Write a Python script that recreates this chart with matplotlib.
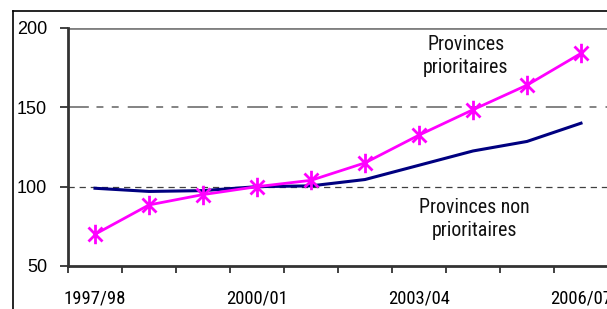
import matplotlib
matplotlib.use("Agg")
import matplotlib.pyplot as plt
from matplotlib import font_manager as fm
from matplotlib.font_manager import FontProperties
from matplotlib.lines import Line2D
from matplotlib.path import Path
import numpy as np

plt.rcParams["font.family"] = ["Liberation Sans", "DejaVu Sans"]
plt.rcParams["lines.scale_dashes"] = False

###================ Data =================###

years = ["1997/98", "1998/99", "1999/00", "2000/01", "2001/02",
         "2002/03", "2003/04", "2004/05", "2005/06", "2006/07"]
prioritaires = [70, 88.5, 95, 100, 104, 115, 132.5, 148.5, 164, 184]
non_prioritaires = [99, 97, 97.5, 100, 100.5, 104.5, 113.5, 122.5, 128.5, 140]
y_ticks = [50, 100, 150, 200]
label_every = 3

###================ Font helpers =================###

def find_narrow_font() -> FontProperties:
    """Look for an installed narrow / condensed sans (Arial Narrow look)"""
    prefs = ["liberation sans narrow", "arial narrow", "roboto condensed",
             "noto sans", "open sans", "dejavu sans"]
    found = []
    for f in fm.fontManager.ttflist:
        tag = (f.name + " " + f.fname).lower()
        if "mono" in tag or "serif" in tag or "italic" in tag or "bold" in tag:
            continue
        if not ("narrow" in tag or "condensed" in tag):
            continue
        if "extra" in tag or "semi" in tag or "ultra" in tag:
            continue
        if f.weight not in (400, "normal", "regular"):
            continue
        rank = len(prefs)
        for i, p in enumerate(prefs):
            if tag.startswith(p):
                rank = i
                break
        found.append((rank, f.fname))
    if found:
        found.sort()
        return FontProperties(fname=found[0][1])
    return FontProperties(family="Liberation Sans")


def fit_size(fig, fp, text, width_px):
    """Font size (pt) that gives `text` the wanted pixel width"""
    r = fig.canvas.get_renderer()
    t = fig.text(0, 0, text, fontproperties=fp, fontsize=20)
    w = t.get_window_extent(renderer=r).width
    t.remove()
    return 20 * width_px / w

###================ Figure =================###

W, H, DPI = 607, 309, 100
fig = plt.figure(figsize=(W / DPI, H / DPI), dpi=DPI)
narrow = find_narrow_font()

# outer frame of the cropped chart object
fig.add_artist(Line2D([13 / W, 1.0], [1 - 11 / H, 1 - 11 / H],
                      color="black", lw=1.2, transform=fig.transFigure))
fig.add_artist(Line2D([13 / W, 13 / W], [0, 1 - 11 / H],
                      color="black", lw=1.2, transform=fig.transFigure))

ax = fig.add_axes([68 / W, (H - 266) / H, 540 / W, 238 / H])
x = np.arange(len(years))

# gridlines
ax.axhline(200, color="#808080", lw=2, zorder=1)
ax.axhline(150, color="#7a7a7a", lw=1.3, zorder=1,
           dashes=(15, 5.5, 5, 6, 5, 6.5))
ax.axhline(100, color="#404040", lw=0.9, zorder=1, dashes=(4.5, 3.5))

# excel-like star marker: X plus a vertical bar
d = 0.72
star = Path([(0, -1), (0, 1), (-d, -d), (d, d), (-d, d), (d, -d)],
            [Path.MOVETO, Path.LINETO] * 3)

ax.plot(x, non_prioritaires, color="#000080", lw=2.2, zorder=3)
ax.plot(x, prioritaires, color="#ff00ff", lw=2, marker=star,
        markersize=14, markeredgewidth=2, zorder=4)

note_size = min(fit_size(fig, narrow, "Provinces non", 111), 16)
ax.text(6.87, 182.5, "Provinces\nprioritaires", ha="center", va="center",
        fontproperties=narrow, fontsize=note_size, linespacing=1.3,
        color="#111111")
ax.text(7.02, 79.5, "Provinces non\nprioritaires", ha="center", va="center",
        fontproperties=narrow, fontsize=note_size, linespacing=1.3,
        color="#111111")

ax.set_xlim(-0.5, len(years) - 0.5)
ax.set_ylim(50, 200)
ax.set_yticks(y_ticks)
ax.set_xticks(x[::label_every])
ax.set_xticklabels(years[::label_every])
ax.set_xticks(np.arange(len(years) + 1) - 0.5, minor=True)

tick_size = min(fit_size(fig, narrow, "1997/98", 62), 16)
for lab in ax.get_xticklabels():
    lab.set_fontproperties(narrow)
    lab.set_fontsize(tick_size)

ax.tick_params(axis="x", which="major", length=0, pad=17)
ax.tick_params(axis="x", which="minor", length=5, width=1.3, color="#333333")
ax.tick_params(axis="y", length=6, width=1.3, color="#333333",
               pad=9, labelsize=13)

for side in ["top", "right"]:
    ax.spines[side].set_visible(False)
for side in ["left", "bottom"]:
    ax.spines[side].set_color("#333333")
    ax.spines[side].set_linewidth(2)

fig.savefig("out.png", dpi=DPI)
